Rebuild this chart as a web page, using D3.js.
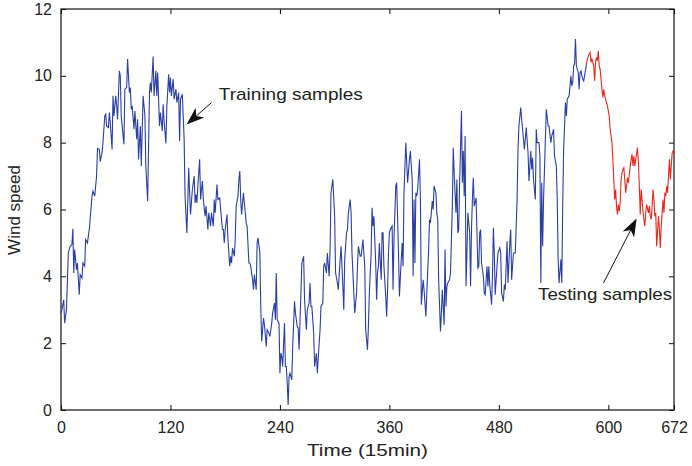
<!DOCTYPE html>
<html>
<head>
<meta charset="UTF-8">
<title></title>
<script src="https://cdnjs.cloudflare.com/ajax/libs/d3/7.8.5/d3.min.js"></script>
<style>
  body { margin: 0; background: #fff; }
  text { font-family: "Liberation Sans", Arial, sans-serif; fill: #222; }
</style>
</head>
<body>
<script>
// training part (time step, wind speed)
var trainTime = [
  0, 1, 3, 4, 6, 8, 10, 12, 13, 14,
  15, 17, 18, 20, 21, 23, 24, 26, 27, 29,
  31, 34, 35, 37, 39, 40, 42, 43, 45, 46,
  48, 49, 50, 52, 53, 54, 56, 57, 58, 60,
  61, 62, 64, 65, 66, 69, 70, 72, 73, 75,
  76, 77, 78, 80, 81, 83, 84, 85, 87, 88,
  90, 92, 93, 95, 97, 98, 99, 101, 102, 104,
  105, 106, 108, 109, 111, 112, 113, 115, 116, 118,
  119, 120, 121, 123, 124, 126, 127, 129, 130, 131,
  133, 135, 136, 138, 140, 141, 142, 144, 146, 147,
  148, 149, 150, 152, 153, 155, 156, 158, 159, 161,
  162, 164, 165, 167, 168, 169, 171, 172, 174, 175,
  177, 178, 179, 180, 182, 183, 185, 186, 187, 188,
  190, 191, 192, 194, 195, 196, 197, 198, 200, 201,
  203, 204, 206, 207, 208, 210, 211, 212, 214, 215,
  216, 218, 219, 220, 222, 223, 225, 226, 228, 229,
  231, 232, 234, 235, 236, 237, 239, 240, 241, 242,
  243, 245, 246, 247, 248, 249, 250, 251, 253, 254,
  256, 257, 259, 260, 261, 263, 264, 266, 267, 269,
  270, 272, 273, 274, 275, 277, 278, 280, 281, 283,
  284, 285, 287, 288, 289, 291, 292, 294, 295, 296,
  298, 300, 301, 303, 304, 306, 307, 309, 310, 311,
  313, 314, 315, 317, 318, 319, 321, 322, 324, 325,
  326, 328, 329, 331, 332, 333, 334, 336, 337, 338,
  340, 341, 342, 343, 345, 346, 347, 348, 349, 351,
  352, 353, 354, 356, 357, 358, 359, 360, 361, 363,
  364, 365, 367, 368, 370, 371, 373, 374, 375, 376,
  378, 379, 380, 382, 383, 385, 386, 387, 388, 389,
  390, 391, 393, 394, 395, 397, 398, 400, 401, 403,
  404, 405, 407, 408, 409, 411, 412, 413, 414, 416,
  417, 418, 420, 421, 422, 423, 424, 426, 427, 429,
  430, 431, 433, 434, 435, 436, 437, 439, 440, 441,
  442, 443, 444, 445, 446, 448, 449, 450, 451, 452,
  453, 455, 456, 457, 458, 459, 460, 461, 463, 464,
  465, 467, 468, 469, 470, 472, 473, 474, 475, 476,
  478, 479, 481, 482, 483, 485, 486, 487, 489, 490,
  492, 493, 494, 496, 497, 498, 500, 501, 502, 504,
  505, 507, 508, 509, 510, 512, 513, 515, 516, 517,
  518, 520, 521, 522, 524, 525, 526, 527, 528, 529,
  531, 532, 534, 535, 537, 538, 540, 541, 543, 544,
  545, 546, 548, 549, 550, 551, 553, 554, 555, 556,
  557, 559, 560, 561, 562, 563, 564, 565, 567, 568,
  569, 570, 571, 572, 573, 574, 576
];
var trainSpeed = [
  2.9, 3.0, 3.3, 2.6, 3.0, 4.7, 4.9, 4.95, 5.42, 4.1,
  4.8, 4.2, 4.4, 3.45, 4.05, 3.95, 4.4, 4.3, 5.1, 5.0,
  5.4, 6.4, 6.55, 6.4, 7.0, 7.83, 7.8, 7.43, 7.7, 8.0,
  8.8, 8.85, 8.5, 8.45, 8.9, 8.6, 7.8, 9.4, 8.8, 9.4,
  9.1, 8.7, 10.15, 10.0, 8.8, 7.95, 9.6, 9.65, 10.5, 9.5,
  9.65, 9.0, 9.1, 8.4, 8.95, 8.1, 8.7, 7.5, 8.5, 7.3,
  9.4, 8.8, 7.3, 6.25, 9.5, 9.8, 9.5, 10.58, 9.4, 10.15,
  9.4, 10.1, 8.5, 8.9, 8.35, 9.15, 8.65, 7.98, 9.05, 10.05,
  9.5, 9.95, 9.4, 9.9, 9.3, 9.6, 9.2, 9.5, 8.05, 9.3,
  9.45, 8.1, 6.4, 5.3, 7.25, 6.5, 5.85, 6.6, 7.0, 6.2,
  6.45, 6.2, 6.7, 7.5, 6.3, 6.85, 6.3, 5.8, 6.1, 5.4,
  5.9, 5.5, 5.9, 5.5, 6.3, 5.9, 6.75, 6.3, 6.35, 6.0,
  5.4, 5.4, 5.0, 5.4, 5.85, 5.1, 4.3, 4.6, 4.4, 4.85,
  4.6, 5.1, 6.1, 6.4, 6.9, 7.15, 6.3, 5.85, 6.5, 6.2,
  5.6, 5.5, 4.4, 4.4, 4.3, 3.9, 3.6, 4.05, 3.6, 5.0,
  5.15, 4.7, 3.1, 2.05, 2.75, 2.55, 1.9, 2.4, 2.3, 2.2,
  2.6, 2.9, 3.2, 2.7, 4.1, 2.7, 2.6, 1.1, 1.7, 1.6,
  1.3, 2.6, 1.3, 1.3, 0.8, 0.15, 1.0, 1.1, 0.9, 1.9,
  3.25, 2.9, 2.5, 2.45, 1.8, 3.5, 4.4, 4.6, 3.3, 2.4,
  3.0, 3.2, 3.8, 3.1, 3.1, 2.3, 1.3, 1.7, 1.1, 2.0,
  2.4, 3.1, 3.2, 4.3, 4.4, 4.1, 4.7, 4.0, 4.8, 6.5,
  6.9, 5.8, 4.1, 3.8, 3.6, 4.5, 4.9, 3.7, 3.0, 4.5,
  5.3, 5.4, 5.9, 6.3, 5.9, 4.7, 3.5, 2.9, 3.5, 4.3,
  4.9, 4.6, 4.6, 5.1, 4.7, 4.3, 2.4, 1.8, 2.5, 3.5,
  4.7, 6.05, 5.5, 5.8, 4.4, 3.3, 4.1, 4.3, 5.0, 3.9,
  5.3, 5.3, 4.3, 3.4, 2.8, 3.6, 4.7, 5.3, 5.4, 5.5,
  3.6, 5.1, 6.7, 6.8, 4.7, 3.4, 4.5, 5.0, 4.3, 6.5,
  8.0, 7.4, 6.8, 7.5, 7.75, 6.9, 4.0, 6.3, 4.4, 6.5,
  6.4, 6.6, 7.5, 6.3, 3.15, 3.9, 3.6, 2.8, 3.5, 4.8,
  5.7, 5.6, 6.25, 6.0, 6.7, 6.5, 5.9, 5.7, 3.9, 2.35,
  2.9, 3.6, 2.55, 4.8, 3.1, 3.7, 3.8, 3.9, 4.1, 6.1,
  7.85, 7.1, 5.9, 6.9, 5.3, 5.4, 6.8, 8.95, 6.8, 7.75,
  6.4, 8.2, 3.7, 4.7, 5.9, 5.3, 3.7, 5.4, 6.3, 6.95,
  6.1, 6.35, 5.3, 4.25, 4.3, 5.3, 5.4, 4.4, 4.0, 3.5,
  3.45, 4.3, 3.7, 4.3, 3.75, 3.15, 4.0, 5.45, 4.7, 3.45,
  4.3, 4.7, 4.85, 4.7, 3.5, 3.25, 3.75, 3.6, 5.05, 3.8,
  5.0, 5.4, 3.9, 4.7, 4.7, 4.7, 6.3, 7.8, 8.5, 9.05,
  8.7, 8.1, 7.8, 8.1, 8.45, 7.7, 6.85, 7.75, 7.2, 7.55,
  6.9, 6.3, 8.4, 8.0, 8.0, 7.6, 3.8, 6.8, 4.9, 6.3,
  8.1, 9.0, 8.5, 8.5, 8.0, 8.2, 8.4, 7.6, 7.3, 6.3,
  4.5, 3.8, 4.5, 3.8, 6.1, 7.8, 9.2, 8.8, 9.3, 9.35,
  9.4, 10.0, 9.7, 9.8, 10.3, 10.35, 11.1, 10.3, 10.1, 9.6,
  10.1, 10.15, 10.0, 9.9, 9.85, 10.0, 10.35
];

// testing part
var testTime = [
  576, 577, 579, 580, 581, 582, 584, 585, 586, 587,
  588, 589, 590, 591, 593, 594, 595, 596, 597, 598,
  599, 601, 602, 604, 605, 606, 607, 608, 609, 610,
  611, 612, 613, 614, 615, 616, 617, 618, 619, 620,
  621, 622, 624, 625, 626, 627, 628, 629, 630, 632,
  633, 634, 635, 636, 637, 638, 639, 640, 641, 642,
  644, 645, 646, 647, 648, 649, 650, 651, 652, 653,
  655, 656, 657, 658, 659, 660, 661, 662, 663, 664,
  665, 667, 668, 669, 670, 671, 672
];
var testSpeed = [
  10.35, 10.5, 10.65, 10.7, 10.4, 10.5, 10.3, 9.85, 10.4, 10.55,
  10.45, 10.75, 10.3, 10.2, 9.6, 9.35, 9.6, 9.4, 9.3, 9.2,
  9.1, 8.8, 8.4, 8.0, 7.5, 6.9, 6.3, 6.6, 6.1, 5.85,
  6.15, 5.95, 6.2, 6.9, 7.1, 7.2, 7.25, 6.9, 6.5, 6.7,
  6.95, 6.8, 7.3, 7.5, 7.65, 7.3, 7.6, 7.3, 7.5, 7.85,
  7.4, 6.7, 5.85, 6.6, 6.3, 5.95, 5.7, 5.5, 5.9, 6.15,
  5.9, 6.1, 5.8, 5.7, 6.1, 6.6, 6.3, 5.8, 5.9, 4.9,
  5.8, 5.4, 4.85, 5.5, 5.9, 6.3, 5.9, 6.5, 6.4, 6.7,
  6.5, 7.5, 6.9, 7.3, 7.7, 7.75, 7.7
];

var xTicks = [0, 120, 240, 360, 480, 600, 672];
var yTicks = [0, 2, 4, 6, 8, 10, 12];

// annotations in data units: [text, text t, text v, tail t, tail v, tip t, tip v]
var notes = [
  ["Training samples", 173, 9.28, 165, 9.2, 137.6, 8.54, 144],
  ["Testing samples", 523, 3.29, 594.7, 3.8, 631, 5.73, 134]
];

var width = 692, height = 466;

var svg = d3.select("body").append("svg")
    .attr("width", width)
    .attr("height", height);

var x = d3.scaleLinear().domain([0, 672]).range([61, 674]);
var y = d3.scaleLinear().domain([0, 12]).range([410, 9]);

// frame with inward ticks on all four sides (matlab style)
svg.append("g")
    .attr("transform", "translate(0,410)")
    .call(d3.axisBottom(x).tickValues(xTicks).tickSizeInner(-5).tickSizeOuter(0).tickPadding(12))
    .call(function(g){ g.select(".domain").remove(); });
svg.append("g")
    .attr("transform", "translate(0,9)")
    .call(d3.axisTop(x).tickValues(xTicks).tickSizeInner(-5).tickSizeOuter(0).tickFormat(""))
    .call(function(g){ g.select(".domain").remove(); });
svg.append("g")
    .attr("transform", "translate(61,0)")
    .call(d3.axisLeft(y).tickValues(yTicks).tickSizeInner(-5).tickSizeOuter(0).tickPadding(9))
    .call(function(g){ g.select(".domain").remove(); });
svg.append("g")
    .attr("transform", "translate(674,0)")
    .call(d3.axisRight(y).tickValues(yTicks).tickSizeInner(-5).tickSizeOuter(0).tickFormat(""))
    .call(function(g){ g.select(".domain").remove(); });

svg.selectAll(".tick line").attr("stroke", "#111");
svg.selectAll(".tick text")
    .style("font-family", "'Liberation Sans', Arial, sans-serif")
    .style("font-size", "16px")
    .attr("fill", "#222");

svg.append("rect")
    .attr("x", 61).attr("y", 9)
    .attr("width", 613).attr("height", 401)
    .attr("fill", "none")
    .attr("stroke", "#111")
    .attr("stroke-width", 1.2);

var line = d3.line()
    .x(function(d){ return x(d[0]); })
    .y(function(d){ return y(d[1]); });

svg.append("path")
    .datum(d3.zip(trainTime, trainSpeed))
    .attr("d", line)
    .attr("fill", "none")
    .attr("stroke", "#2a3fa6")
    .attr("stroke-width", 1.1);

svg.append("path")
    .datum(d3.zip(testTime, testSpeed))
    .attr("d", line)
    .attr("fill", "none")
    .attr("stroke", "#e8271c")
    .attr("stroke-width", 1.1);

// annotation arrows + labels
notes.forEach(function(n){
    var x1 = x(n[3]), y1 = y(n[4]), x2 = x(n[5]), y2 = y(n[6]);
    var a = Math.atan2(y2 - y1, x2 - x1);
    var L = 18, W = 6.5, N = 5;
    var bx = x2 - L * Math.cos(a), by = y2 - L * Math.sin(a);
    var nx = x2 - (L - N) * Math.cos(a), ny = y2 - (L - N) * Math.sin(a);
    svg.append("line")
        .attr("x1", x1).attr("y1", y1).attr("x2", nx).attr("y2", ny)
        .attr("stroke", "#111").attr("stroke-width", 1);
    svg.append("path")
        .attr("d", "M" + x2 + "," + y2 +
            "L" + (bx - W * Math.sin(a)) + "," + (by + W * Math.cos(a)) +
            "L" + nx + "," + ny +
            "L" + (bx + W * Math.sin(a)) + "," + (by - W * Math.cos(a)) + "Z")
        .attr("fill", "#111");
    svg.append("text")
        .attr("x", x(n[1])).attr("y", y(n[2]))
        .attr("textLength", n[7])
        .attr("lengthAdjust", "spacingAndGlyphs")
        .style("font-size", "17px")
        .text(n[0]);
});

svg.append("text")
    .attr("x", 367.5).attr("y", 456)
    .attr("text-anchor", "middle")
    .attr("textLength", 121)
    .attr("lengthAdjust", "spacingAndGlyphs")
    .style("font-size", "17px")
    .text("Time (15min)");

svg.append("text")
    .attr("transform", "translate(20,210) rotate(-90)")
    .attr("text-anchor", "middle")
    .style("font-size", "17px")
    .text("Wind speed");
</script>
</body>
</html>
